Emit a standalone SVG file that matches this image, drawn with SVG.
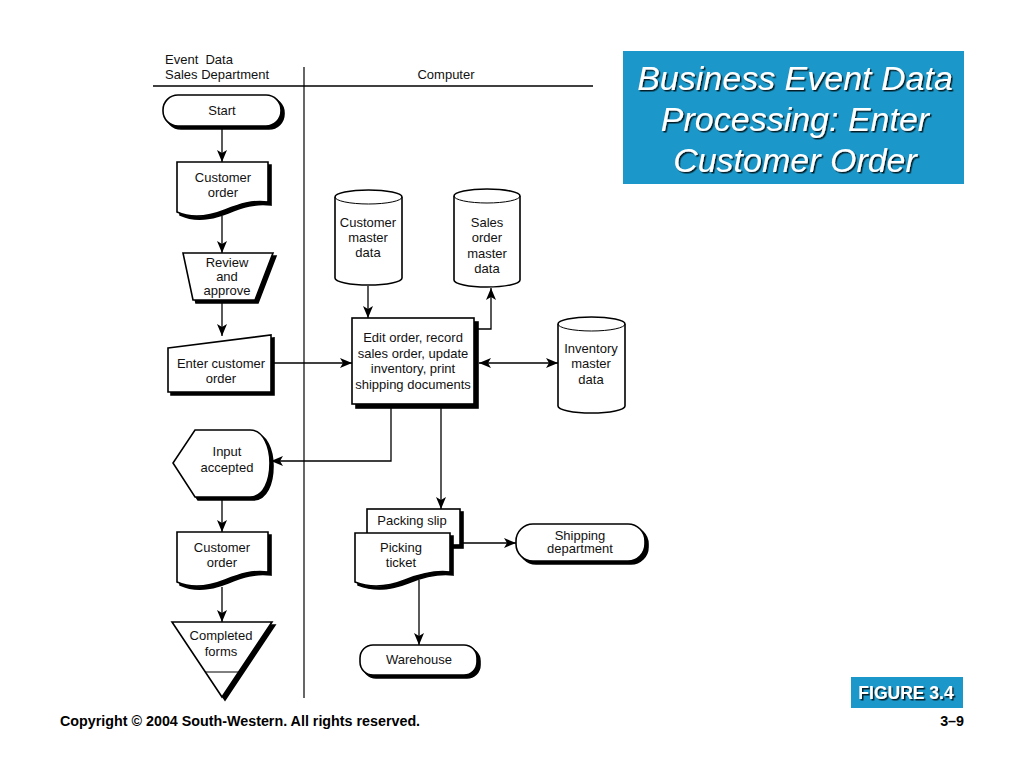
<svg xmlns="http://www.w3.org/2000/svg" width="1024" height="768" viewBox="0 0 1024 768">
<defs>
<marker id="ah" markerWidth="12" markerHeight="10" refX="12" refY="5" orient="auto" markerUnits="userSpaceOnUse">
<path d="M0,0 L12,5 L0,10 L3,5 Z" fill="#000"/>
</marker>
<marker id="ahs" markerWidth="12" markerHeight="10" refX="0" refY="5" orient="auto" markerUnits="userSpaceOnUse">
<path d="M12,0 L0,5 L12,10 L9,5 Z" fill="#000"/>
</marker>
<filter id="ts" x="-5%" y="-5%" width="110%" height="120%">
<feDropShadow dx="1.5" dy="1.5" stdDeviation="0.6" flood-color="#000" flood-opacity="0.8"/>
</filter>
</defs>
<style>
.t{font-family:"Liberation Sans",Arial,sans-serif;font-size:13px;fill:#111;text-anchor:middle}
.s{fill:#fff;stroke:#000;stroke-width:1.6}
.sh{fill:#000;stroke:#000;stroke-width:1.6}
.c{fill:none;stroke:#000;stroke-width:1.3}
.thin{fill:none;stroke:#000;stroke-width:1}
.title{font-family:"Liberation Sans",Arial,sans-serif;font-size:34px;font-style:italic;fill:#fff;text-anchor:middle}
.foot{font-family:"Liberation Sans",Arial,sans-serif;font-size:14.3px;font-weight:bold;fill:#000}
</style>
<rect width="1024" height="768" fill="#fff"/>

<g id="header">
<text class="t" x="165" y="64" style="text-anchor:start">Event&#160;&#160;Data</text>
<text class="t" x="165" y="79" style="text-anchor:start">Sales Department</text>
<text class="t" x="446" y="79">Computer</text>
<line x1="153" y1="86" x2="593" y2="86" stroke="#000" stroke-width="1.6"/>
<line x1="304" y1="67" x2="304" y2="698" stroke="#000" stroke-width="1.2"/>
</g>

<g id="connectors">
<line class="c" x1="222" y1="129" x2="222" y2="162" marker-end="url(#ah)"/>
<line class="c" x1="222" y1="216" x2="222" y2="253" marker-end="url(#ah)"/>
<line class="c" x1="222" y1="300" x2="222" y2="336" marker-end="url(#ah)"/>
<line class="c" x1="271" y1="363" x2="352" y2="363" marker-end="url(#ah)"/>
<line class="c" x1="368" y1="286" x2="368" y2="318" marker-end="url(#ah)"/>
<polyline class="c" points="474,329 491,329 491,288" marker-end="url(#ah)"/>
<line class="c" x1="479" y1="363" x2="558" y2="363" marker-start="url(#ahs)" marker-end="url(#ah)"/>
<polyline class="c" points="391,404 391,461 271,461" marker-end="url(#ah)"/>
<line class="c" x1="441" y1="404" x2="441" y2="509" marker-end="url(#ah)"/>
<line class="c" x1="222" y1="497" x2="222" y2="532" marker-end="url(#ah)"/>
<line class="c" x1="222" y1="587" x2="222" y2="622" marker-end="url(#ah)"/>
<line class="c" x1="461" y1="543" x2="516" y2="543" marker-end="url(#ah)"/>
<line class="c" x1="419" y1="580" x2="419" y2="645" marker-end="url(#ah)"/>
</g>

<g id="start">
<rect class="sh" x="166" y="98" width="118" height="31" rx="15"/>
<rect class="s" x="163" y="95" width="118" height="31" rx="15"/>
<text class="t" x="222" y="115">Start</text>
</g>

<g id="customer-order-1">
<path class="sh" transform="translate(3,3)" d="M177,162 H268 V202 C252,200 240,204 225,210 C205,218 190,218 177,212 Z"/>
<path class="s" d="M177,162 H268 V202 C252,200 240,204 225,210 C205,218 190,218 177,212 Z"/>
<text class="t" x="223" y="182">Customer</text>
<text class="t" x="223" y="197">order</text>
</g>

<g id="review">
<path class="sh" transform="translate(3,3)" d="M183,253 H273 L255,300 H193 Z"/>
<path class="s" d="M183,253 H273 L255,300 H193 Z"/>
<text class="t" x="227" y="267">Review</text>
<text class="t" x="227" y="281">and</text>
<text class="t" x="227" y="295">approve</text>
</g>

<g id="enter-order">
<path class="sh" transform="translate(3,3)" d="M168,348 L271,335 V392 H168 Z"/>
<path class="s" d="M168,348 L271,335 V392 H168 Z"/>
<text class="t" x="221" y="368">Enter customer</text>
<text class="t" x="221" y="383">order</text>
</g>

<g id="customer-master">
<path class="s" d="M335,197 A33.5,7 0 0 1 402,197 V278 A33.5,7 0 0 1 335,278 Z"/>
<path class="thin" d="M335,197 A33.5,7 0 0 0 402,197" stroke-width="1.6"/>
<text class="t" x="368" y="227">Customer</text>
<text class="t" x="368" y="242">master</text>
<text class="t" x="368" y="257">data</text>
</g>

<g id="sales-master">
<path class="s" d="M454,196 A33,7 0 0 1 520,196 V280 A33,7 0 0 1 454,280 Z"/>
<path class="thin" d="M454,196 A33,7 0 0 0 520,196" stroke-width="1.6"/>
<text class="t" x="487" y="227">Sales</text>
<text class="t" x="487" y="242">order</text>
<text class="t" x="487" y="258">master</text>
<text class="t" x="487" y="273">data</text>
</g>

<g id="process">
<rect class="sh" x="356" y="322" width="122" height="86"/>
<rect class="s" x="352" y="318" width="122" height="86"/>
<text class="t" x="413" y="342">Edit order, record</text>
<text class="t" x="413" y="358">sales order, update</text>
<text class="t" x="413" y="373">inventory, print</text>
<text class="t" x="413" y="389">shipping documents</text>
</g>

<g id="inventory-master">
<path class="s" d="M558,324 A33.5,7 0 0 1 625,324 V406 A33.5,7 0 0 1 558,406 Z"/>
<path class="thin" d="M558,324 A33.5,7 0 0 0 625,324" stroke-width="1.6"/>
<text class="t" x="591" y="353">Inventory</text>
<text class="t" x="591" y="368">master</text>
<text class="t" x="591" y="384">data</text>
</g>

<g id="input-accepted">
<path class="sh" transform="translate(3,3)" d="M195,430 H250 C264,430 270,448 270,463 C270,480 264,497 250,497 H195 L173,463 Z"/>
<path class="s" d="M195,430 H250 C264,430 270,448 270,463 C270,480 264,497 250,497 H195 L173,463 Z"/>
<text class="t" x="227" y="456">Input</text>
<text class="t" x="227" y="472">accepted</text>
</g>

<g id="customer-order-2">
<path class="sh" transform="translate(3,3)" d="M177,532 H268 V572 C252,570 240,574 225,580 C205,588 190,588 177,582 Z"/>
<path class="s" d="M177,532 H268 V572 C252,570 240,574 225,580 C205,588 190,588 177,582 Z"/>
<text class="t" x="222" y="552">Customer</text>
<text class="t" x="222" y="567">order</text>
</g>

<g id="completed-forms">
<path class="sh" transform="translate(3,3)" d="M172,622 H272 L222,697 Z"/>
<path class="s" d="M172,622 H272 L222,697 Z"/>
<line class="thin" x1="205" y1="672" x2="239" y2="672"/>
<text class="t" x="221" y="640">Completed</text>
<text class="t" x="221" y="656">forms</text>
</g>

<g id="packing-slip">
<rect class="sh" x="370" y="512" width="93" height="36"/>
<rect class="s" x="367" y="509" width="93" height="36"/>
<text class="t" x="412" y="525">Packing slip</text>
</g>

<g id="picking-ticket">
<path class="sh" transform="translate(3,3)" d="M355,533 H450 V572 C434,570 420,574 405,580 C385,588 370,588 355,582 Z"/>
<path class="s" d="M355,533 H450 V572 C434,570 420,574 405,580 C385,588 370,588 355,582 Z"/>
<text class="t" x="401" y="552">Picking</text>
<text class="t" x="401" y="567">ticket</text>
</g>

<g id="shipping">
<rect class="sh" x="519" y="527" width="129" height="37" rx="17"/>
<rect class="s" x="516" y="524" width="129" height="37" rx="17"/>
<text class="t" x="580" y="540">Shipping</text>
<text class="t" x="580" y="553">department</text>
</g>

<g id="warehouse">
<rect class="sh" x="363" y="648" width="117" height="30" rx="13"/>
<rect class="s" x="360" y="645" width="117" height="30" rx="13"/>
<text class="t" x="419" y="664">Warehouse</text>
</g>

<g id="title">
<rect x="623" y="51" width="341" height="133" fill="#1b98c9"/>
<g filter="url(#ts)">
<text class="title" x="795" y="90">Business Event Data</text>
<text class="title" x="795" y="131">Processing: Enter</text>
<text class="title" x="795" y="172">Customer Order</text>
</g>
</g>

<g id="figure-label">
<rect x="851" y="677" width="112" height="31" fill="#1b98c9"/>
<text x="906" y="699" filter="url(#ts)" style="font-family:'Liberation Sans',Arial,sans-serif;font-size:17.5px;font-weight:bold;fill:#fff;text-anchor:middle">FIGURE 3.4</text>
</g>

<g id="footer">
<text class="foot" x="60" y="726">Copyright © 2004 South-Western. All rights reserved.</text>
<text class="foot" x="964" y="726" text-anchor="end">3–9</text>
</g>
</svg>
